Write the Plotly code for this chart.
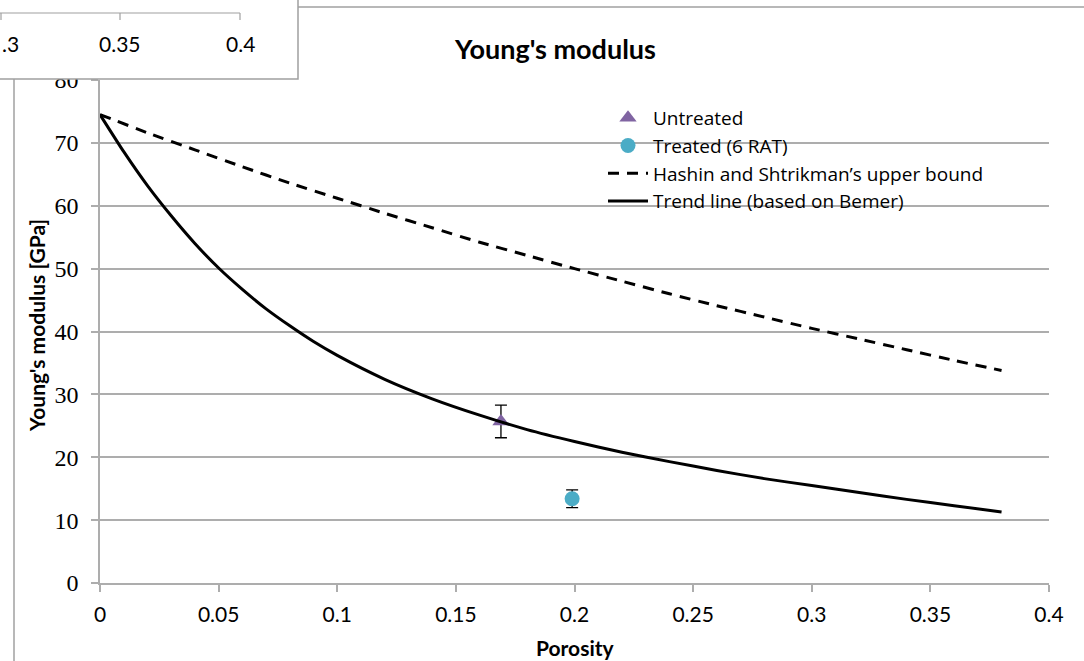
import plotly.graph_objects as go

# ---------------- data ----------------
porosity_untreated = [0.169]
E_untreated = [25.7]
E_untreated_err = [2.6]

porosity_treated = [0.199]
E_treated = [13.4]
E_treated_err = [1.4]

hs_porosity = [0.0, 0.02, 0.04, 0.06, 0.08, 0.10, 0.12, 0.14, 0.16, 0.18, 0.20,
               0.22, 0.24, 0.26, 0.28, 0.30, 0.32, 0.34, 0.36, 0.38]
hs_E = [74.5, 71.6, 68.9, 66.2, 63.6, 61.2, 58.8, 56.5, 54.2, 52.1, 50.0,
        48.0, 46.0, 44.1, 42.3, 40.5, 38.8, 37.1, 35.4, 33.8]

trend_porosity = [0.0, 0.01, 0.02, 0.03, 0.04, 0.05, 0.06, 0.07, 0.08, 0.09, 0.10,
                  0.12, 0.14, 0.16, 0.18, 0.20, 0.22, 0.24, 0.26, 0.28, 0.30,
                  0.32, 0.34, 0.36, 0.38]
trend_E = [74.5, 68.6, 63.2, 58.4, 54.0, 50.1, 46.7, 43.6, 40.9, 38.4, 36.2,
           32.4, 29.3, 26.7, 24.4, 22.5, 20.8, 19.3, 17.9, 16.6, 15.5,
           14.4, 13.3, 12.3, 11.3]

x_ticks = [0, 0.05, 0.1, 0.15, 0.2, 0.25, 0.3, 0.35, 0.4]
x_ticklabels = ["0", "0.05", "0.1", "0.15", "0.2", "0.25", "0.3", "0.35", "0.4"]
y_ticks = [0, 10, 20, 30, 40, 50, 60, 70, 80]

frag_ticklabels = [".3", "0.35", "0.4"]

# ---------------- layout geometry (pixels) ----------------
W, H = 1084, 661
L, R, T, B = 100, 35, 80, 78
PW, PH = W - L - R, H - T - B


def px(x):
    return (x - L) / PW


def py(y):
    return (H - B - y) / PH


GRID = "#ADADAD"
SANS = "Lato, 'Open Sans', sans-serif"
LEG = "'Open Sans', Lato, sans-serif"
SERIF = "'Liberation Serif', 'DejaVu Serif', serif"

fig = go.Figure()

fig.add_trace(go.Scatter(
    x=porosity_untreated, y=E_untreated, mode="markers", name="Untreated",
    marker=dict(symbol="triangle-up", size=15, color="#8064A2"),
    error_y=dict(type="data", array=E_untreated_err, color="black", thickness=1.3, width=6),
))
fig.add_trace(go.Scatter(
    x=porosity_treated, y=E_treated, mode="markers", name="Treated (6 RAT)",
    marker=dict(symbol="circle", size=15, color="#4BACC6"),
    error_y=dict(type="data", array=E_treated_err, color="black", thickness=1.3, width=6),
))
fig.add_trace(go.Scatter(
    x=hs_porosity, y=hs_E, mode="lines", name="Hashin and Shtrikman\u2019s upper bound",
    line=dict(color="black", width=3, dash="11px,8px", shape="spline", smoothing=0.6),
))
fig.add_trace(go.Scatter(
    x=trend_porosity, y=trend_E, mode="lines", name="Trend line (based on Bemer)",
    line=dict(color="black", width=3, shape="spline", smoothing=0.6),
))

shapes = []
# main chart frame (partially hidden)
shapes.append(dict(type="line", xref="paper", yref="paper",
                   x0=px(14), x1=px(14), y0=py(79), y1=py(H + 5),
                   line=dict(color="#A0A0A0", width=1.5)))
shapes.append(dict(type="line", xref="paper", yref="paper",
                   x0=px(298), x1=px(W + 5), y0=py(7), y1=py(7),
                   line=dict(color="#A0A0A0", width=1.5)))
# overlapping fragment box
shapes.append(dict(type="rect", xref="paper", yref="paper",
                   x0=px(-5), x1=px(298), y0=py(-5), y1=py(79),
                   fillcolor="white", line=dict(color="#A0A0A0", width=1.5),
                   layer="above"))
shapes.append(dict(type="line", xref="paper", yref="paper",
                   x0=px(-5), x1=px(240), y0=py(13), y1=py(13),
                   line=dict(color="#A0A0A0", width=1.2), layer="above"))
for tx in [1, 120, 240]:
    shapes.append(dict(type="line", xref="paper", yref="paper",
                       x0=px(tx), x1=px(tx), y0=py(13), y1=py(20),
                       line=dict(color="#A0A0A0", width=1.2), layer="above"))

annotations = []
for tx, lab in zip([0, 120, 240], frag_ticklabels):
    anchor = "center"
    xx = tx
    if lab == ".3":
        anchor = "left"
        xx = 0
    annotations.append(dict(x=px(xx), y=py(43), xref="paper", yref="paper",
                            text=lab, showarrow=False, xanchor=anchor, yanchor="middle",
                            font=dict(family=SANS, size=21, color="black")))
annotations.append(dict(x=px(555), y=py(48), xref="paper", yref="paper",
                        text="<b>Young's modulus</b>", showarrow=False,
                        xanchor="center", yanchor="middle",
                        font=dict(family=SANS, size=27, color="black")))
annotations.append(dict(x=px(575), y=py(647), xref="paper", yref="paper",
                        text="<b>Porosity</b>", showarrow=False,
                        xanchor="center", yanchor="middle",
                        font=dict(family=SANS, size=21, color="black")))
annotations.append(dict(x=px(36), y=py(326), xref="paper", yref="paper",
                        text="<b>Young's modulus [GPa]</b>", showarrow=False, textangle=-90,
                        xanchor="center", yanchor="middle",
                        font=dict(family=SANS, size=21, color="black")))

fig.update_layout(
    width=W, height=H,
    margin=dict(l=L, r=R, t=T, b=B, pad=0, autoexpand=False),
    paper_bgcolor="white", plot_bgcolor="white",
    shapes=shapes, annotations=annotations,
    showlegend=True,
    legend=dict(x=px(603), y=py(99), xanchor="left", yanchor="top",
                bgcolor="rgba(0,0,0,0)", font=dict(family=LEG, size=19, color="black"),
                tracegroupgap=0, itemwidth=40),
    xaxis=dict(range=[0, 0.4], tickvals=x_ticks, ticktext=x_ticklabels, automargin=False,
               showgrid=False, zeroline=False, showline=True, linecolor=GRID, linewidth=1.5,
               ticks="outside", ticklen=7, tickcolor=GRID, tickwidth=1.5,
               tickfont=dict(family=SANS, size=21, color="black"), ticklabelstandoff=5),
    yaxis=dict(range=[0, 80], tickvals=y_ticks, automargin=False,
               showgrid=True, gridcolor=GRID, gridwidth=1.5, zeroline=False,
               showline=True, linecolor=GRID, linewidth=1.5,
               ticks="outside", ticklen=7, tickcolor=GRID, tickwidth=1.5,
               tickfont=dict(family=SERIF, size=24, color="black"), ticklabelstandoff=8),
)

fig.write_html("out.html")
